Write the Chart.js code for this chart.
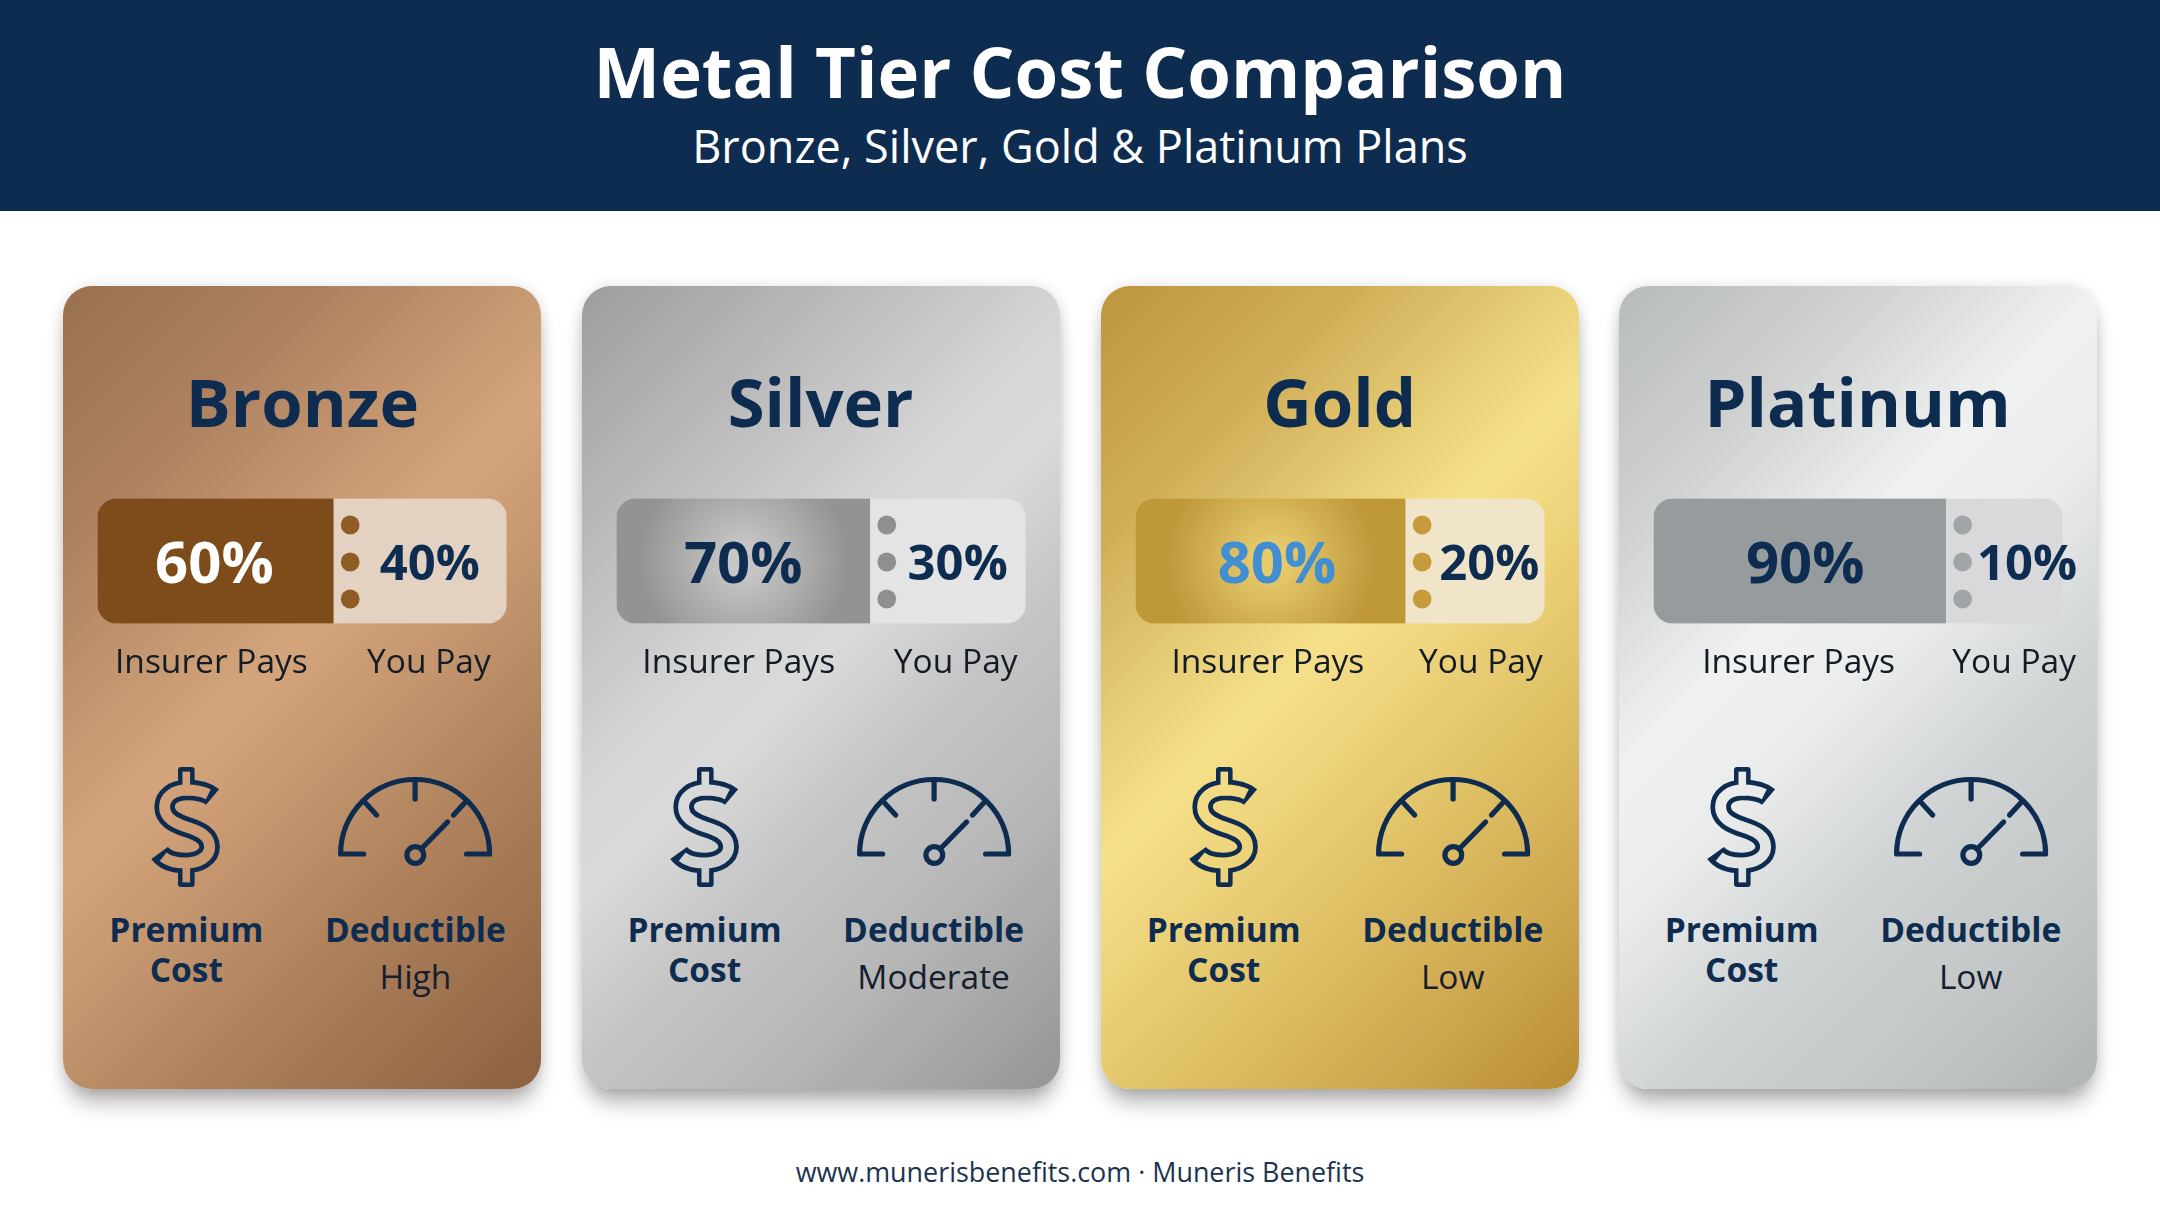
<!DOCTYPE html>
<html>
<head>
<meta charset="utf-8">
<title>Metal Tier Cost Comparison</title>
<script src="https://cdn.jsdelivr.net/npm/chart.js@4"></script>
<style>
  html, body { margin: 0; padding: 0; background: #fff; }
  body { width: 2160px; height: 1206px; position: relative; overflow: hidden; font-family: "Open Sans", sans-serif; }
  #header { position: absolute; left: 0; top: 0; width: 2160px; height: 211px; background: #0e2c50; color: #fff; text-align: center; }
  #title { position: absolute; left: 0; width: 100%; top: 23px; font-size: 70.6px; font-weight: 700; line-height: 96px; }
  #subtitle { position: absolute; left: 0; width: 100%; top: 116px; font-size: 45px; line-height: 60px; }
  #footer { position: absolute; left: 0; width: 100%; top: 1152px; text-align: center; font-size: 26.9px; line-height: 40px; color: #1c3350; }
  .card { position: absolute; top: 286px; width: 478px; height: 803px; border-radius: 29px; box-shadow: 0 18px 22px -6px rgba(0,0,0,.32), 0 0 14px rgba(0,0,0,.12); }
  .card canvas { position: absolute; left: 0; top: 190px; }
  .card svg { position: absolute; left: 0; top: 0; }
  .name { position: absolute; left: 0; width: 100%; top: 70px; text-align: center; font-size: 67px; font-weight: 700; line-height: 90px; color: #0e2c50; }
  .lab { position: absolute; width: 240px; text-align: center; font-size: 33.5px; line-height: 40px; }
  .lab b { color: #0e2c50; font-weight: 700; }
  .lab span { display: block; margin-top: 7px; color: #14202e; }
</style>
</head>
<body>
<div id="header">
  <div id="title">Metal Tier Cost Comparison</div>
  <div id="subtitle">Bronze, Silver, Gold &amp; Platinum Plans</div>
</div>
<div id="footer">www.munerisbenefits.com · Muneris Benefits</div>
<script>
const tiers = ["Bronze", "Silver", "Gold", "Platinum"];
// bar lengths as drawn in the picture (the split is not to scale with the printed percentages)
const insurerBar = [57.6, 61.9, 65.9, 71.4];
const youBar = [42.4, 38.1, 34.1, 28.6];
const insurerLabels = ["60%", "70%", "80%", "90%"];
const youLabels = ["40%", "30%", "20%", "10%"];
const deductibles = ["High", "Moderate", "Low", "Low"];

const navy = "#0e2c50";
const cardLeft = [63.4, 581.6, 1100.7, 1618.7];
const cardBg = [
  "linear-gradient(135deg,#99704e 0%,#ad8160 20%,#c99b73 38%,#d4a57d 46%,#c99a72 55%,#b2855f 70%,#9f7250 85%,#8d6140 100%)",
  "linear-gradient(135deg,#9d9d9e 0%,#bcbcbd 22%,#d6d6d7 40%,#dadadb 48%,#c6c6c7 60%,#b8b8b9 75%,#a7a7a8 88%,#959596 100%)",
  "linear-gradient(135deg,#bd963f 0%,#d0ae58 20%,#e8cf78 36%,#f5e08a 45%,#eed47c 54%,#dfc065 68%,#cda64e 85%,#b88d34 100%)",
  "linear-gradient(135deg,#b8bbbb 0%,#d0d2d2 20%,#f0f1f1 38%,#eaecec 50%,#d0d3d3 66%,#c2c5c5 85%,#b0b4b4 100%)"
];
const insurerFill = [["#7d4c1a", "#7d4c1a"], ["#c6c6c7", "#939394"], ["#e6ca6c", "#bf983a"], ["#969c9e", "#969c9e"]];
const youFill = ["#e3d2c2", "#e4e4e5", "#f0e5c9", "#d9d9db"];
const dotFill = ["#8f5c26", "#8f8f90", "#c79b3c", "#a2a5a7"];
const insurerText = ["#ffffff", navy, "#3f8fd2", navy];
// text offsets from the middle of each bar segment
const pctShift = [[-1, 10], [0, 10], [6.6, 14.5], [5.6, 23]];
const capShift = [[-4, 9], [-4.5, 8], [-2.5, 6], [-1, 10]];

function icons(i) {
  const s = "M213,797 C207,792 197,790 187,790 C174,790 165,797 165,807 C165,818 175,823 187,827 C200,831 210,836 210,847 C210,857 199,863 186,863 C174,863 165,860 160,853";
  return `<svg width="478" height="803" viewBox="63.4 286 478 803">
    <mask id="dollar${i}" maskUnits="userSpaceOnUse" x="130" y="750" width="110" height="150">
      <g fill="none" stroke-linejoin="round">
        <path d="${s}" stroke="#fff" stroke-width="20.5"/>
        <rect x="178.4" y="767" width="16.6" height="24" rx="3" fill="#fff"/>
        <rect x="178.4" y="862" width="16.6" height="25" rx="3" fill="#fff"/>
        <rect x="182.9" y="771.6" width="7.6" height="24" fill="#000"/>
        <rect x="182.9" y="858" width="7.6" height="24.4" fill="#000"/>
        <path d="${s}" stroke="#000" stroke-width="11" pathLength="100" stroke-dasharray="94.4 100" stroke-dashoffset="-2.8"/>
      </g>
    </mask>
    <rect x="130" y="750" width="110" height="150" fill="${navy}" mask="url(#dollar${i})"/>
    <g fill="none" stroke="${navy}" stroke-width="5.2" stroke-linecap="round" stroke-linejoin="round">
      <path d="M364,854 H341 A74.5,74.5 0 0 1 490,854 H467"/>
      <path d="M415.5,779.5 V799"/>
      <path d="M366,803 L377,815"/>
      <path d="M465,803 L454,815"/>
      <path d="M421.5,849 L448,822"/>
      <circle cx="415.7" cy="855" r="8.4"/>
    </g>
  </svg>`;
}

function segmentGradient(chart, el, stops) {
  const g = chart.ctx.createRadialGradient(el.x0, chart.chartArea.top + 62, 15, el.x0, chart.chartArea.top + 62, 105);
  g.addColorStop(0, stops[0]);
  g.addColorStop(1, stops[1]);
  return g;
}

const barText = {
  id: "barText",
  afterDatasetsDraw(chart, args, opts) {
    const i = opts.tier, ctx = chart.ctx, area = chart.chartArea;
    const x = chart.scales.x;
    const split = x.getPixelForValue(insurerBar[i]);
    const midA = (x.getPixelForValue(0) + split) / 2;
    const midB = (split + x.getPixelForValue(100)) / 2;

    ctx.save();
    ctx.fillStyle = dotFill[i];
    [26.5, 63.5, 100.5].forEach(function (dy) {
      ctx.beginPath();
      ctx.arc(split + 17, area.top + dy, 9.4, 0, Math.PI * 2);
      ctx.fill();
    });

    ctx.textAlign = "center";
    ctx.textBaseline = "alphabetic";
    ctx.font = "700 58px 'Open Sans'";
    ctx.fillStyle = insurerText[i];
    ctx.fillText(insurerLabels[i], midA + pctShift[i][0], area.top + 84);
    ctx.font = "700 49px 'Open Sans'";
    ctx.fillStyle = navy;
    ctx.fillText(youLabels[i], midB + pctShift[i][1], area.top + 81);

    ctx.font = "400 33.5px 'Open Sans'";
    ctx.fillStyle = "#131c26";
    ctx.fillText("Insurer Pays", midA + capShift[i][0], area.top + 174);
    ctx.fillText("You Pay", midB + capShift[i][1], area.top + 174);
    ctx.restore();
  }
};

tiers.forEach(function (tier, i) {
  const card = document.createElement("div");
  card.className = "card";
  card.style.left = cardLeft[i] + "px";
  card.style.background = cardBg[i];
  card.innerHTML = icons(i) +
    `<div class="name">${tier}</div>` +
    `<canvas id="bar${i}" width="478" height="340"></canvas>` +
    `<div class="lab" style="left:3px;top:623px"><b>Premium<br>Cost</b></div>` +
    `<div class="lab" style="left:232px;top:623px"><b>Deductible</b><span>${deductibles[i]}</span></div>`;
  document.body.appendChild(card);

  new Chart(document.getElementById("bar" + i), {
    type: "bar",
    plugins: [barText],
    data: {
      labels: [tier],
      datasets: [
        {
          label: "Insurer Pays",
          data: [insurerBar[i]],
          borderRadius: { topLeft: 20, bottomLeft: 20, topRight: 0, bottomRight: 0 },
          borderSkipped: false,
          backgroundColor: function (c) {
            if (!c.chart.chartArea || !c.element) return insurerFill[i][1];
            const x = c.chart.scales.x;
            const mid = (x.getPixelForValue(0) + x.getPixelForValue(insurerBar[i])) / 2;
            return segmentGradient(c.chart, { x0: mid }, insurerFill[i]);
          },
        },
        {
          label: "You Pay",
          data: [youBar[i]],
          borderRadius: { topLeft: 0, bottomLeft: 0, topRight: 20, bottomRight: 20 },
          borderSkipped: false,
          backgroundColor: youFill[i],
        },
      ],
    },
    options: {
      indexAxis: "y",
      responsive: false,
      animation: false,
      layout: { padding: { left: 34.6, right: 34.4, top: 22.5, bottom: 192.5 } },
      datasets: { bar: { barPercentage: 1, categoryPercentage: 1 } },
      plugins: { legend: { display: false }, tooltip: { enabled: false }, barText: { tier: i } },
      scales: {
        x: { stacked: true, min: 0, max: 100, display: false },
        y: { stacked: true, display: false },
      },
    },
  });
});
</script>
</body>
</html>
